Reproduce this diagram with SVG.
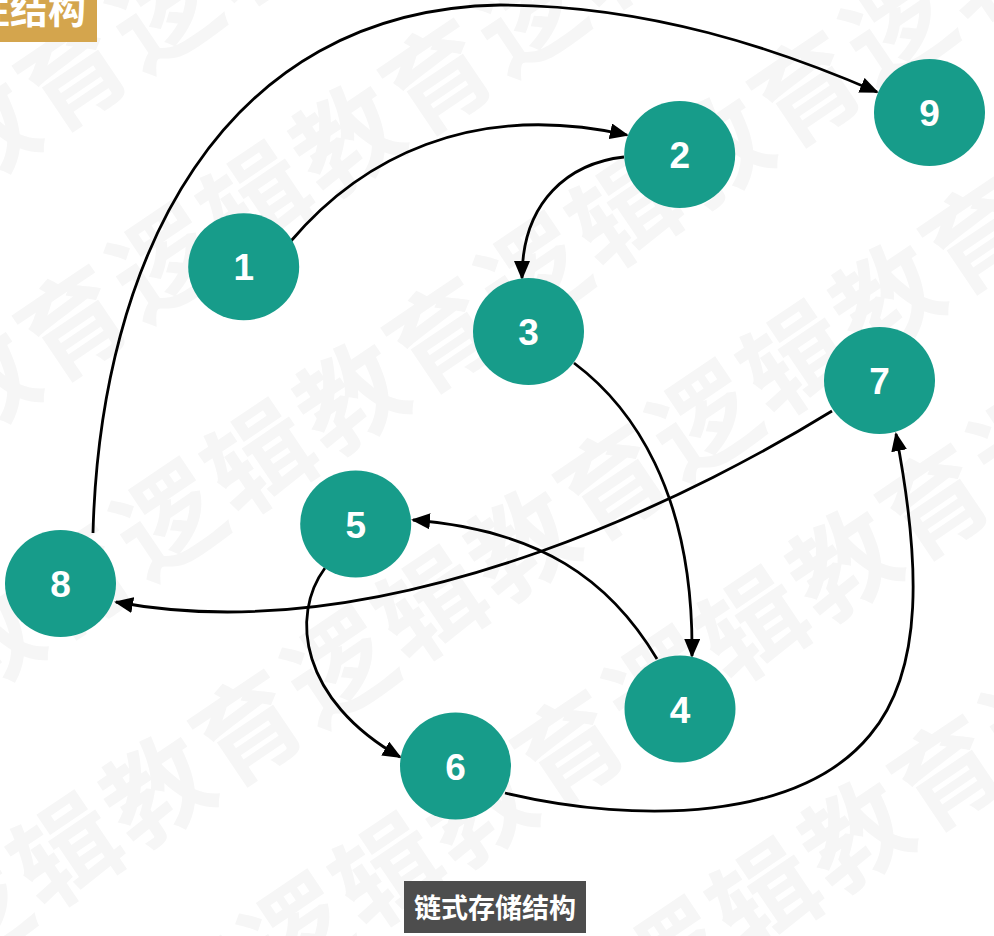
<svg xmlns="http://www.w3.org/2000/svg" width="994" height="936" viewBox="0 0 994 936">
  <style>
    .wm { font-family: "Noto Sans CJK SC", "Noto Sans", sans-serif; font-weight: 700; font-size: 105px; letter-spacing: 5px; fill: #f6f6f6; }
    .node ellipse { fill: #179C8A; }
    .node text { font-family: "Liberation Sans", Arial, sans-serif; font-weight: 700; font-size: 37px; fill: #ffffff; text-anchor: middle; }
    .edge { fill: none; stroke: #000000; stroke-width: 2.8; marker-end: url(#arrow); }
    .tag { font-family: "Noto Sans CJK SC", "Noto Sans", sans-serif; font-weight: 700; fill: #ffffff; }
  </style>
  <defs>
    <marker id="arrow" markerUnits="userSpaceOnUse" markerWidth="19" markerHeight="16" refX="17" refY="8" orient="auto">
      <path d="M0,0 L19,8 L0,16 z" fill="#000000"/>
    </marker>
  </defs>
  <rect x="0" y="0" width="994" height="936" fill="#ffffff"/>

  <g id="watermark">
    <text class="wm" transform="translate(-222,320) rotate(-34)">逻辑教育逻辑教育</text>
    <text class="wm" transform="translate(-222,570) rotate(-34)">逻辑教育逻辑教育逻辑教育</text>
    <text class="wm" transform="translate(-218,828) rotate(-34)">逻辑教育逻辑教育逻辑教育逻辑教育</text>
    <text class="wm" transform="translate(-47,975) rotate(-34)">逻辑教育逻辑教育逻辑教育逻辑教育</text>
    <text class="wm" transform="translate(-90,1241) rotate(-34)">逻辑教育逻辑教育逻辑教育逻辑教育</text>
    <text class="wm" transform="translate(287,1266) rotate(-34)">逻辑教育逻辑教育逻辑教育</text>
  </g>

  <g id="title-tag">
    <rect x="0" y="0" width="97" height="42" fill="#D4A54D"/>
    <text class="tag" x="86" y="23" font-size="38" text-anchor="end">非线性结构</text>
  </g>

  <g id="connectors">
    <path class="edge" d="M291,241 C360,160 470,100 627,135"/>
    <path class="edge" d="M624,157 C570,163 522,200 522,278"/>
    <path class="edge" d="M574,363 C630,405 694,490 692,656"/>
    <path class="edge" d="M657,659 C610,580 540,530 413,520"/>
    <path class="edge" d="M325,568 C290,615 300,700 400,757"/>
    <path class="edge" d="M505,793 C640,825 800,820 870,735 C925,670 920,560 896,434"/>
    <path class="edge" d="M832,411 C720,480 400,655 116,602"/>
    <path class="edge" d="M93,533 C100,260 220,10 500,5 C650,5 780,50 877,92"/>
  </g>

  <g id="node-1" class="node"><ellipse cx="243.7" cy="266.7" rx="55.5" ry="53.5"/><text x="243.7" y="280.2">1</text></g>
  <g id="node-2" class="node"><ellipse cx="679.7" cy="154.5" rx="55.5" ry="53.5"/><text x="679.7" y="168">2</text></g>
  <g id="node-3" class="node"><ellipse cx="528.5" cy="331.5" rx="55.5" ry="53.5"/><text x="528.5" y="345">3</text></g>
  <g id="node-4" class="node"><ellipse cx="680" cy="709" rx="55.5" ry="53.5"/><text x="680" y="722.5">4</text></g>
  <g id="node-5" class="node"><ellipse cx="355.7" cy="524" rx="55.5" ry="53.5"/><text x="355.7" y="537.5">5</text></g>
  <g id="node-6" class="node"><ellipse cx="455.5" cy="766" rx="55.5" ry="53.5"/><text x="455.5" y="779.5">6</text></g>
  <g id="node-7" class="node"><ellipse cx="879.5" cy="380.5" rx="55.5" ry="53.5"/><text x="879.5" y="394">7</text></g>
  <g id="node-8" class="node"><ellipse cx="60.5" cy="583.5" rx="55.5" ry="53.5"/><text x="60.5" y="597">8</text></g>
  <g id="node-9" class="node"><ellipse cx="929.5" cy="112.5" rx="55.5" ry="53.5"/><text x="929.5" y="126">9</text></g>

  <g id="caption">
    <rect x="404" y="881" width="182" height="52" fill="#4D4D4D"/>
    <text class="tag" x="495" y="918" font-size="27" text-anchor="middle">链式存储结构</text>
  </g>
</svg>
